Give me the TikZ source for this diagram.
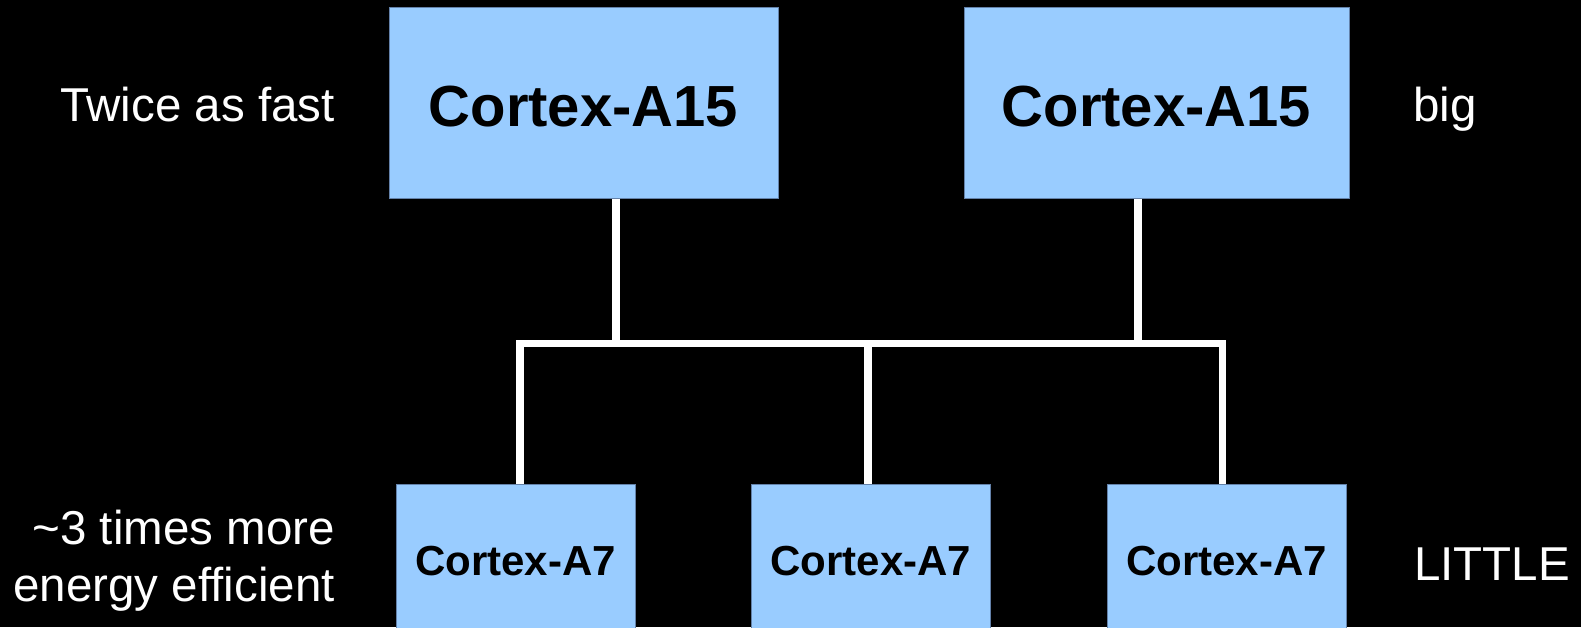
\documentclass[tikz,border=0pt]{standalone}
\usepackage{fontspec}
\setmainfont{Liberation Sans}
\begin{document}
\begin{tikzpicture}[x=1pt,y=-1pt,
  bigbox/.style={fill={rgb,255:red,153;green,204;blue,255}, draw={rgb,255:red,100;green,130;blue,170}, line width=1pt,
    minimum height=191pt, inner sep=0pt},
  littlebox/.style={fill={rgb,255:red,153;green,204;blue,255}, draw={rgb,255:red,100;green,130;blue,170}, line width=1pt,
    minimum width=239pt, minimum height=180pt, inner sep=0pt, anchor=north},
  bigtxt/.style={font=\fontsize{58}{64}\selectfont\bfseries, inner sep=0pt, anchor=base},
  littletxt/.style={font=\fontsize{42}{48}\selectfont\bfseries, inner sep=0pt, anchor=base},
  wire/.style={draw=white, line width=7.5pt, line join=miter, line cap=butt},
  lbl/.style={text=white, font=\fontsize{47.5}{57}\selectfont, inner sep=0pt}]
\fill[black] (0,0) rectangle (1581,627);
\useasboundingbox (0,0) rectangle (1581,627);
\clip (0,0) rectangle (1581,627);
% big cores
\node[bigbox, minimum width=389pt] (b1) at (583.5,102.5) {};
\node[bigbox, minimum width=385pt] (b2) at (1156.5,102.5) {};
\node[bigtxt] (t1) at (583.5,126) {Cortex-A15};
\node[bigtxt] (t2) at (1156.5,126) {Cortex-A15};
% little cores
\node[littlebox] (l1) at (515.5,484) {};
\node[littlebox] (l2) at (871,484) {};
\node[littlebox] (l3) at (1226.5,484) {};
\node[littletxt] (u1) at (515.5,575) {Cortex-A7};
\node[littletxt] (u2) at (871,575) {Cortex-A7};
\node[littletxt] (u3) at (1226.5,575) {Cortex-A7};
% bus
\coordinate (j1) at (616,343.5);
\coordinate (j2) at (1138,343.5);
\coordinate (jl) at (520,343.5);
\coordinate (jm) at (868,343.5);
\coordinate (jr) at (1222.5,343.5);
\draw[wire] (b1.south -| j1) -- (j1);
\draw[wire] (b2.south -| j2) -- (j2);
\draw[wire] (l1.north -| jl) -- (jl) -- (jr) -- (l3.north -| jr);
\draw[wire] (jm) -- (l2.north -| jm);
% labels
\node[lbl, anchor=base east] (twice) at (335,121) {Twice as fast};
\node[lbl, anchor=base west] (big) at (1413,121) {big};
\node[lbl, anchor=base east] (eff1) at (335,544) {\textasciitilde3 times more};
\node[lbl, anchor=base east] (eff2) at (335,601) {energy efficient};
\node[lbl, anchor=base west] (little) at (1414,580) {LITTLE};
\end{tikzpicture}
\end{document}
